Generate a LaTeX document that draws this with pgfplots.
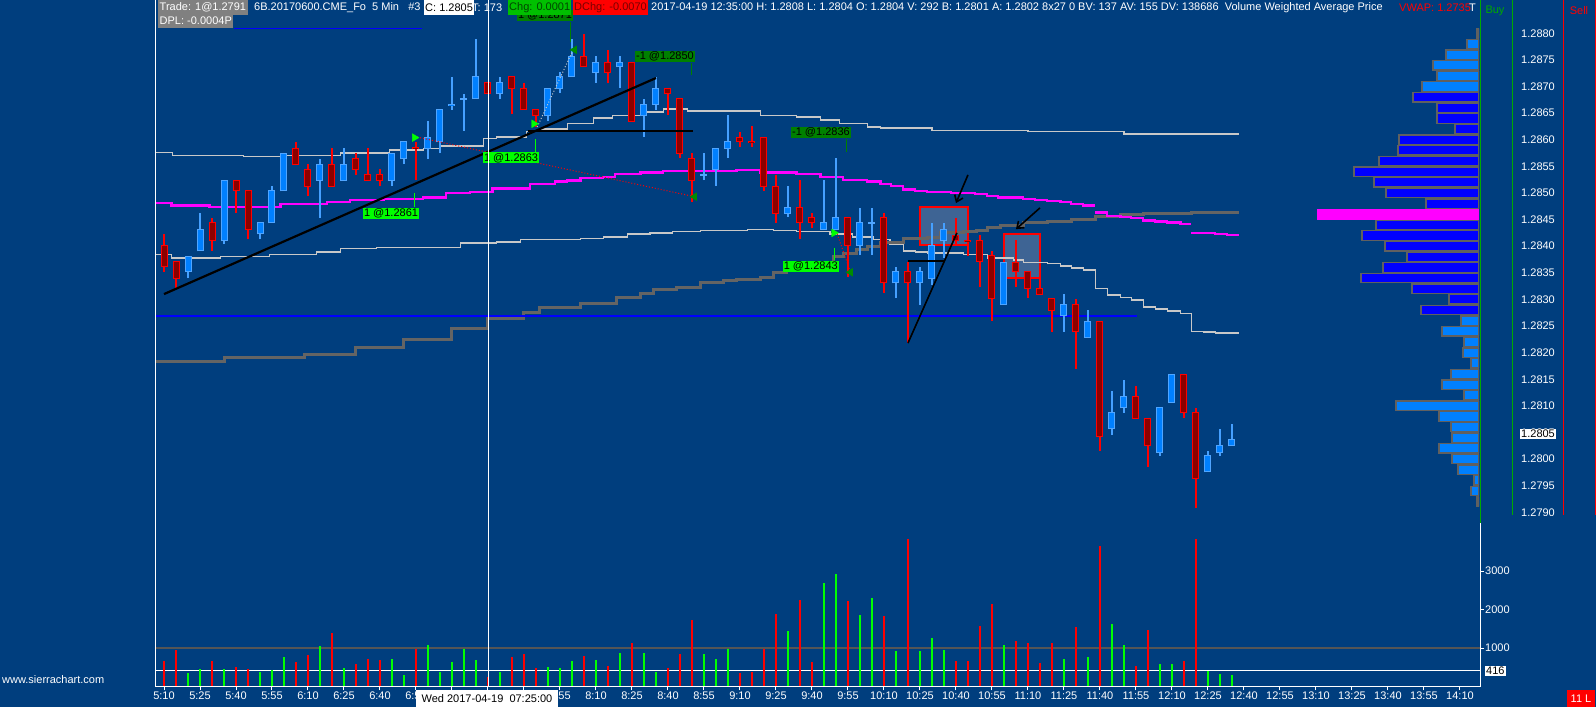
\documentclass[border=0pt]{standalone}
\usepackage{fontspec}
\setmainfont{Liberation Sans}
\usepackage{pgfplots}
\usepackage{pgfplotstable}
\pgfplotsset{compat=1.18}
\usetikzlibrary{arrows.meta}

\definecolor{bg}{RGB}{0,62,126}
\definecolor{upfill}{RGB}{0,128,255}
\definecolor{upedge}{RGB}{80,165,255}
\definecolor{upwick}{RGB}{70,160,255}
\definecolor{dnfill}{RGB}{140,0,0}
\definecolor{dnedge}{RGB}{255,0,0}
\definecolor{band}{RGB}{200,200,200}
\definecolor{vw}{RGB}{100,100,100}
\definecolor{mag}{RGB}{255,0,255}
\definecolor{volg}{RGB}{0,255,0}
\definecolor{volr}{RGB}{255,0,0}
\definecolor{profL}{RGB}{0,128,255}
\definecolor{profD}{RGB}{0,0,255}
\definecolor{profE}{RGB}{96,96,96}
\definecolor{lblg}{RGB}{0,255,0}
\definecolor{lbldg}{RGB}{0,128,0}
\definecolor{exitg}{RGB}{0,140,0}
\definecolor{hdrgray}{RGB}{128,128,128}
\definecolor{rectfill}{RGB}{62,100,148}
\definecolor{chgg}{RGB}{0,192,0}
\definecolor{buyg}{RGB}{0,170,0}
\definecolor{mline}{RGB}{85,85,85}
\definecolor{bluel}{RGB}{0,0,255}

\newcommand{\fs}{\fontsize{11pt}{13pt}\selectfont}

\pgfplotsset{
  candle/.style n args={2}{forget plot, draw=none, mark=none,
    error bars/.cd, y dir=plus, y explicit, error mark=none,
    error bar style={line width=#1, draw=#2}},
}

% candles: index (5-min bars from 5:10), open, high, low, close
\pgfplotstableread{
i o h l c
2 1.28352 1.28380 1.28340 1.28380
3 1.28391 1.28462 1.28391 1.28432
5 1.28410 1.28524 1.28404 1.28524
8 1.28423 1.28444 1.28413 1.28444
9 1.28444 1.28513 1.28444 1.28504
10 1.28504 1.28575 1.28504 1.28575
13 1.28524 1.28564 1.28453 1.28554
15 1.28524 1.28584 1.28524 1.28554
19 1.28524 1.28575 1.28513 1.28575
20 1.28564 1.28596 1.28554 1.28596
22 1.28584 1.28635 1.28564 1.28605
23 1.28596 1.28656 1.28575 1.28656
24 1.28665 1.28718 1.28656 1.28667
25 1.28676 1.28686 1.28617 1.28677
26 1.28677 1.28789 1.28677 1.28718
28 1.28686 1.28718 1.28677 1.28707
32 1.28645 1.28697 1.28635 1.28697
33 1.28697 1.28727 1.28688 1.28718
34 1.28718 1.28789 1.28718 1.28757
36 1.28727 1.28757 1.28707 1.28746
38 1.28737 1.28757 1.28697 1.28746
40 1.28645 1.28677 1.28605 1.28667
41 1.28667 1.28718 1.28656 1.28697
45 1.28533 1.28575 1.28524 1.28534
46 1.28545 1.28584 1.28513 1.28584
47 1.28584 1.28646 1.28566 1.28596
52 1.28462 1.28513 1.28455 1.28472
55 1.28432 1.28524 1.28432 1.28444
56 1.28432 1.28566 1.28432 1.28453
58 1.28402 1.28472 1.28383 1.28444
59 1.28443 1.28472 1.28383 1.28444
61 1.28331 1.28361 1.28303 1.28352
63 1.28331 1.28361 1.28290 1.28352
64 1.28340 1.28444 1.28327 1.28402
65 1.28410 1.28444 1.28378 1.28432
70 1.28290 1.28370 1.28290 1.28370
75 1.28269 1.28310 1.28239 1.28290
77 1.28229 1.28280 1.28229 1.28259
79 1.28057 1.28128 1.28045 1.28087
80 1.28096 1.28149 1.28087 1.28117
83 1.28013 1.28096 1.28006 1.28096
84 1.28107 1.28158 1.28107 1.28158
87 1.27976 1.28015 1.27976 1.28006
88 1.28013 1.28057 1.28006 1.28025
89 1.28025 1.28066 1.28025 1.28036
}\upc

\pgfplotstableread{
i o h l c
0 1.28402 1.28423 1.28352 1.28361
1 1.28372 1.28372 1.28321 1.28340
4 1.28444 1.28453 1.28391 1.28410
6 1.28524 1.28524 1.28462 1.28504
7 1.28504 1.28504 1.28413 1.28432
11 1.28584 1.28596 1.28553 1.28553
12 1.28545 1.28554 1.28494 1.28513
14 1.28554 1.28584 1.28513 1.28513
16 1.28564 1.28575 1.28534 1.28545
17 1.28534 1.28584 1.28524 1.28524
18 1.28534 1.28545 1.28513 1.28524
21 1.28586 1.28596 1.28524 1.28583
27 1.28707 1.28707 1.28686 1.28686
29 1.28718 1.28718 1.28648 1.28697
30 1.28697 1.28707 1.28656 1.28656
31 1.28656 1.28656 1.28624 1.28646
35 1.28757 1.28799 1.28737 1.28737
37 1.28746 1.28769 1.28707 1.28727
39 1.28746 1.28746 1.28635 1.28635
42 1.28697 1.28697 1.28646 1.28686
43 1.28677 1.28677 1.28566 1.28575
44 1.28564 1.28575 1.28483 1.28524
48 1.28605 1.28615 1.28586 1.28596
49 1.28597 1.28626 1.28586 1.28595
50 1.28605 1.28605 1.28504 1.28513
51 1.28513 1.28534 1.28444 1.28462
53 1.28472 1.28524 1.28413 1.28444
54 1.28453 1.28462 1.28434 1.28444
57 1.28453 1.28453 1.28342 1.28402
60 1.28453 1.28462 1.28312 1.28331
62 1.28352 1.28370 1.28218 1.28331
66 1.28421 1.28453 1.28402 1.28410
67 1.28411 1.28421 1.28382 1.28409
68 1.28410 1.28421 1.28323 1.28372
69 1.28382 1.28391 1.28259 1.28301
71 1.28370 1.28412 1.28323 1.28352
72 1.28352 1.28352 1.28303 1.28321
73 1.28321 1.28340 1.28310 1.28310
74 1.28301 1.28301 1.28239 1.28280
76 1.28290 1.28301 1.28169 1.28239
78 1.28259 1.28259 1.28015 1.28043
81 1.28117 1.28137 1.28077 1.28077
82 1.28077 1.28077 1.27985 1.28025
85 1.28158 1.28158 1.28077 1.28087
86 1.28087 1.28096 1.27908 1.27964
}\dnc

\pgfplotstableread{
i v
2 351
3 455
5 455
8 385
9 429
10 775
13 1052
15 481
19 714
20 299
22 1078
23 385
24 637
25 974
26 688
28 385
32 507
33 481
34 662
36 688
38 870
40 870
41 385
45 844
46 714
47 974
52 1442
55 2689
56 2923
58 1858
59 2299
61 922
63 922
64 1260
65 948
70 1078
75 714
77 766
79 1624
80 1078
83 585
84 585
87 403
88 325
89 292
}\volup

\pgfplotstableread{
i v
0 662
1 948
4 662
6 507
7 455
11 637
12 818
14 1390
16 585
17 714
18 688
21 974
27 247
29 766
30 844
31 481
35 792
37 533
39 1130
42 481
43 844
44 1728
48 351
49 385
50 974
51 1884
53 2247
54 637
57 2221
60 1832
62 3832
66 662
67 662
68 1572
69 2143
71 1182
72 1130
73 610
74 1130
76 1546
78 3650
81 533
82 1468
85 662
86 3832
}\voldn

\begin{document}
\begin{tikzpicture}
\fill[bg] (0,0) rectangle (1596pt,707pt);
\path[use as bounding box] (0,0) rectangle (1596pt,707pt);

% ---------------- price panel ----------------
\begin{axis}[
  at={(155pt,187pt)}, anchor=south west,
  scale only axis, width=1325pt, height=520pt,
  xmin=-0.75, xmax=109.67, ymin=1.278855, ymax=1.288626,
  axis line style={draw=none},
  xtick=\empty,
  ytick={1.2790,1.2795,1.2800,1.2805,1.2810,1.2815,1.2820,1.2825,1.2830,1.2835,1.2840,1.2845,1.2850,1.2855,1.2860,1.2865,1.2870,1.2875,1.2880},
  yticklabels={1.2790,1.2795,1.2800,1.2805,1.2810,1.2815,1.2820,1.2825,1.2830,1.2835,1.2840,1.2845,1.2850,1.2855,1.2860,1.2865,1.2870,1.2875,1.2880},
  ytick pos=right, yticklabel pos=right, ytick style={draw=none},
  yticklabel style={font=\fs, text=white, anchor=west, inner sep=0pt, xshift=41pt},
]
% drawn rectangles
\filldraw[fill=rectfill, draw=dnedge, line width=1.5pt] (axis cs:63,1.28474) rectangle (axis cs:67,1.28402);
\filldraw[fill=rectfill, draw=dnedge, line width=1.5pt] (axis cs:70,1.28423) rectangle (axis cs:73,1.28340);

% upper band
\addplot[const plot, band, line width=1.3pt] coordinates {(-0.75,1.28576) (0.7,1.28571) (6.6,1.28568) (9.7,1.28571) (14.7,1.28575) (18.8,1.28581) (21.6,1.28584) (23,1.28588) (26.6,1.28603) (27.7,1.28605) (30.2,1.28615) (31.5,1.28620) (33.6,1.28630) (35.8,1.28641) (37.4,1.28646) (39.7,1.28652) (41.6,1.28658) (43.6,1.28654) (49.7,1.28646) (52.7,1.28643) (54.7,1.28637) (56.3,1.28630) (58.6,1.28624) (59.7,1.28622) (64,1.28618) (72,1.28615) (80,1.28611) (89.6,1.28611)};
% lower band
\addplot[const plot, band, line width=1.3pt] coordinates {(-0.75,1.28385) (0.6,1.28378) (4.7,1.28380) (8.8,1.28385) (12.7,1.28389) (14.7,1.28395) (17.7,1.28398) (24.7,1.28406) (27.7,1.28408) (29.7,1.28413) (34.7,1.28415) (36.6,1.28417) (38.6,1.28423) (40.5,1.28425) (42.4,1.28427) (44.7,1.28429) (46.6,1.28430) (48.6,1.28432) (50.8,1.28429) (52.7,1.28427) (55.5,1.28423) (57.4,1.28417) (59.1,1.28413) (60.5,1.28404) (61.6,1.28391) (62.6,1.28389) (63.6,1.28387) (66.6,1.28385) (68.6,1.28378) (70.8,1.28374) (71.6,1.28370) (73.6,1.28367) (74.7,1.28363) (75.6,1.28359) (76.6,1.28355) (77.6,1.28320) (78.6,1.28308) (79.7,1.28303) (80.6,1.28299) (81.6,1.28286) (82.6,1.28282) (83.6,1.28278) (84.7,1.28274) (85.6,1.28240) (86.6,1.28239) (87.6,1.28237) (89.6,1.28237)};
% VWAP (dark gray)
\addplot[const plot, vw, line width=3pt] coordinates {(-0.75,1.28184) (5,1.28190) (11.7,1.28197) (16,1.28209) (20,1.28224) (24,1.28246) (27,1.28265) (30,1.28276) (31.3,1.28284) (34.7,1.28293) (37.7,1.28303) (39.7,1.28312) (40.8,1.28318) (42.7,1.28323) (44.7,1.28331) (46.6,1.28335) (47.7,1.28338) (49.7,1.28342) (50.8,1.28350) (51.9,1.28355) (55.8,1.28380) (56.6,1.28387) (57.7,1.28393) (58.6,1.28399) (59.7,1.28406) (61.6,1.28415) (63.6,1.28417) (64.7,1.28425) (66.6,1.28427) (67.7,1.28430) (68.6,1.28436) (69.7,1.28438) (71.6,1.28444) (73.6,1.28446) (74.7,1.28447) (75.6,1.28451) (77.6,1.28455) (79.7,1.28459) (81.6,1.28461) (84.7,1.28462) (85.6,1.28464) (89.6,1.28464)};
% magenta
\addplot[const plot, mag, line width=2.6pt] coordinates {(-0.75,1.28481) (0.6,1.28477) (3.8,1.28474) (9.7,1.28479) (13.6,1.28483) (15.5,1.28487) (18.3,1.28489) (21.6,1.28491) (23.5,1.28500) (25.5,1.28502) (27.4,1.28508) (30.5,1.28517) (32.6,1.28521) (33.6,1.28523) (34.7,1.28528) (36.6,1.28530) (37.6,1.28536) (39.7,1.28538) (41.6,1.28541) (47.7,1.28543) (49.7,1.28539) (52.7,1.28536) (54.7,1.28530) (56.6,1.28524) (58.6,1.28521) (59.7,1.28517) (60.6,1.28513) (61.6,1.28506) (62.6,1.28504) (63.6,1.28502) (65.6,1.28500) (67.6,1.28498) (68.6,1.28494) (69.5,1.28492) (70.6,1.28491) (71.6,1.28489) (72.6,1.28487) (73.6,1.28485) (74.7,1.28483) (75.6,1.28479) (76.6,1.28477) (77.6,1.28477)};
\addplot[const plot, mag, line width=2.6pt] coordinates {(77.6,1.28463) (78.6,1.28457) (79.7,1.28455) (80.6,1.28453) (81.6,1.28448) (82.6,1.28446) (83.6,1.28444) (84.7,1.28442) (85.6,1.28442)};
\addplot[const plot, mag, line width=2.6pt] coordinates {(85.6,1.28425) (87.6,1.28423) (88.6,1.28421) (89.6,1.28421)};

% blue horizontal lines
\draw[bluel, line width=2pt] (axis cs:-0.75,1.28269) -- (axis cs:81.08,1.28269);
\draw[bluel, line width=1.5pt] (axis cs:5.83,1.28809) -- (axis cs:21.5,1.28809);

% wicks
\addplot[candle={1.3pt}{upwick}] table[x=i, y=l, y error plus expr={\thisrow{h}-\thisrow{l}}] {\upc};
\addplot[candle={1.3pt}{dnedge}] table[x=i, y=l, y error plus expr={\thisrow{h}-\thisrow{l}}] {\dnc};
% bodies: outer edge
\addplot[candle={7pt}{upedge}] table[x=i, y expr={min(\thisrow{o},\thisrow{c})-0.0000094}, y error plus expr={abs(\thisrow{c}-\thisrow{o})+0.0000188}] {\upc};
\addplot[candle={7pt}{dnedge}] table[x=i, y expr={min(\thisrow{o},\thisrow{c})-0.0000094}, y error plus expr={abs(\thisrow{c}-\thisrow{o})+0.0000188}] {\dnc};
% bodies: fill
\addplot[candle={5pt}{upfill}] table[x=i, y expr={min(\thisrow{o},\thisrow{c})+0.0000094}, y error plus expr={max(abs(\thisrow{c}-\thisrow{o})-0.0000188,0)}] {\upc};
\addplot[candle={5pt}{dnfill}] table[x=i, y expr={min(\thisrow{o},\thisrow{c})+0.0000094}, y error plus expr={max(abs(\thisrow{c}-\thisrow{o})-0.0000188,0)}] {\dnc};

% trend lines
\draw[black, line width=2.2pt] (axis cs:0,1.28310) -- (axis cs:41,1.28716);
\draw[black, line width=2.2pt] (axis cs:30.33,1.28616) -- (axis cs:44.08,1.28616);
\draw[black, line width=1.6pt] (axis cs:62,1.28218) -- (axis cs:66.08,1.28425);
\draw[black, line width=2pt] (axis cs:62,1.28372) -- (axis cs:65.08,1.28372);
\draw[black, line width=1.6pt, -{Straight Barb[length=6pt,width=9pt]}] (axis cs:67,1.28534) -- (axis cs:66,1.28481);
\draw[black, line width=1.6pt, -{Straight Barb[length=6pt,width=9pt]}] (axis cs:73,1.28472) -- (axis cs:71,1.28432);

% trade connection lines
\draw[dnedge, dotted, line width=1pt] (axis cs:21.1,1.28605) -- (axis cs:44,1.28494);
\draw[band, dotted, line width=1pt] (axis cs:31.1,1.28624) -- (axis cs:34.1,1.28769);
\draw[dnedge, dotted, line width=1pt] (axis cs:56.1,1.28423) -- (axis cs:57.2,1.28352);

% label stems
\draw[lblg, line width=1pt] (axis cs:20.9,1.28500) -- (axis cs:20.9,1.28474);
\draw[lblg, line width=1pt] (axis cs:31,1.28601) -- (axis cs:31,1.28577);
\draw[lbldg, line width=1pt] (axis cs:44,1.28744) -- (axis cs:44,1.28722);
\draw[lbldg, line width=1pt] (axis cs:56.9,1.28601) -- (axis cs:56.9,1.28577);
\draw[lblg, line width=1pt] (axis cs:55.9,1.28397) -- (axis cs:55.9,1.28374);
\draw[lbldg, line width=1pt] (axis cs:33.9,1.28821) -- (axis cs:33.9,1.28784);

% trade labels
\node[fill=lbldg, text=black, font=\fs, inner sep=0.8pt] at (axis cs:31.75,1.28834) {1 @1.2871};
\node[fill=lblg, text=black, font=\fs, inner sep=0.8pt] at (axis cs:18.92,1.28462) {1 @1.2861};
\node[fill=lblg, text=black, font=\fs, inner sep=0.8pt] at (axis cs:28.92,1.28566) {1 @1.2863};
\node[fill=lbldg, text=black, font=\fs, inner sep=0.8pt] at (axis cs:41.75,1.28756) {-1 @1.2850};
\node[fill=lbldg, text=black, font=\fs, inner sep=0.8pt] at (axis cs:54.75,1.28614) {-1 @1.2836};
\node[fill=lblg, text=black, font=\fs, inner sep=0.8pt] at (axis cs:53.9,1.28362) {1 @1.2843};

% entry / exit markers
\addplot[only marks, mark=triangle*, mark size=4.5pt, mark options={rotate=-90, fill=lblg, draw=lblg}] coordinates {(20.88,1.28604) (30.83,1.28630) (55.83,1.28425)};
\addplot[only marks, mark=triangle*, mark size=4.5pt, mark options={rotate=90, fill=exitg, draw=exitg}] coordinates {(34.21,1.28769) (44.21,1.28493) (57.21,1.28351)};
\end{axis}

% ---------------- volume profile ----------------
\begin{axis}[
  at={(1280pt,187pt)}, anchor=south west,
  scale only axis, width=199pt, height=520pt,
  xmin=0, xmax=199, x dir=reverse,
  ymin=1.278855, ymax=1.288626, hide axis,
  xbar, bar width=9.4pt, bar shift=0pt,
]
\addplot[xbar, fill=profL, draw=profE, line width=1.3pt] coordinates {
(2,1.2880) (12,1.2878) (33,1.2876) (46,1.2874) (42,1.2872) (57,1.2870)
(18,1.2826) (37,1.2824) (15,1.2822) (16,1.2820) (8,1.2818) (28,1.2816) (37,1.2814) (15,1.2812) (83,1.2810) (40,1.2808) (28,1.2806) (27,1.2804) (40,1.2802) (27,1.2800) (21,1.2798) (5,1.2796) (8,1.2794) (2,1.2792)};
\addplot[xbar, fill=profD, draw=profE, line width=1.3pt] coordinates {
(66,1.2868) (42,1.2866) (42,1.2864) (24,1.2862) (80,1.2860) (81,1.2858) (100,1.2856) (125,1.2854) (105,1.2852) (93,1.2850) (53,1.2848)
(103,1.2844) (117,1.2842) (94,1.2840) (72,1.2838) (96,1.2836) (118,1.2834) (67,1.2832) (30,1.2830) (58,1.2828)};
\addplot[xbar, fill=mag, draw=none, bar width=10.6pt] coordinates {(162,1.2846)};
\end{axis}

% ---------------- volume panel ----------------
\begin{axis}[
  at={(155pt,20.5pt)}, anchor=south west,
  scale only axis, width=1325pt, height=163.5pt,
  xmin=-0.75, xmax=109.67, ymin=0, ymax=4247,
  axis line style={draw=none},
  xtick={0,3,...,108},
  xticklabels={5:10,5:25,5:40,5:55,6:10,6:25,6:40,6:55,{},{},{},7:55,8:10,8:25,8:40,8:55,9:10,9:25,9:40,9:55,10:10,10:25,10:40,10:55,11:10,11:25,11:40,11:55,12:10,12:25,12:40,12:55,13:10,13:25,13:40,13:55,14:10},
  ytick={1000,2000,3000}, yticklabels={1000,2000,3000},
  xtick pos=left, ytick pos=right, yticklabel pos=right,
  tick align=outside, major tick length=4pt,
  tick style={white, line width=1pt},
  xticklabel style={font=\fs, text=white, inner sep=1pt},
  yticklabel style={font=\fs, text=white, inner sep=1pt},
  /pgf/number format/assume math mode=true,
]
\draw[mline, line width=2pt] (axis cs:-0.75,1000) -- (axis cs:109.67,1000);
\draw[white, line width=1pt] (axis cs:-0.75,416) -- (axis cs:109.67,416);
\addplot[ycomb, volg, line width=2.4pt] table[x=i, y=v] {\volup};
\addplot[ycomb, volr, line width=2.4pt] table[x=i, y=v] {\voldn};
\end{axis}

% ---------------- frame, header, overlays ----------------
\begin{scope}[x=1pt, y=-1pt, shift={(0pt,707pt)}]
\fill[bg] (1513,516) rectangle (1562,530);
\draw[white, line width=1pt] (155.5,0) -- (155.5,687);
\draw[white, line width=1pt] (155,687) -- (1480,687);
\draw[white, line width=1pt] (1480,523) -- (1480,687);
\draw[buyg, line width=1pt] (1480,0) -- (1480,523);
\draw[buyg, line width=1pt] (1512,0) -- (1512,515);
\draw[volr, line width=1pt] (1563,0) -- (1563,515);
\draw[volr, line width=1pt] (1595,0) -- (1595,515);

% cursor
\draw[white, line width=1pt] (488,0) -- (488,687);

% header row 1
\node[fill=hdrgray, text=white, font=\fs, inner sep=1.5pt, anchor=west, minimum height=15pt] at (158,7.5) {Trade: 1@1.2791};
\node[text=white, font=\fs, inner sep=0pt, anchor=west] at (254,7.5) {6B.20170600.CME\_Fo\ \ 5 Min\ \ \ \#3};
\node[fill=white, text=black, font=\fs, inner sep=1pt, anchor=west, minimum height=15pt] at (424,7.5) {C: 1.2805};
\node[text=white, font=\fs, inner sep=0pt, anchor=west] at (472,7.5) {T:\ 173};
\node[fill=chgg, text={rgb,255:red,0;green,70;blue,0}, font=\fs, inner sep=1pt, anchor=west, minimum height=15pt] at (508,7.5) {Chg: 0.0001};
\node[fill=volr, text={rgb,255:red,120;green,0;blue,0}, font=\fs, inner sep=1pt, anchor=west, minimum height=15pt] at (573,7.5) {DChg: -0.0070};
\node[text=white, font=\fs, inner sep=0pt, anchor=west] at (651,7.5) {2017-04-19 12:35:00 H: 1.2808 L: 1.2804 O: 1.2804 V: 292 B: 1.2801 A: 1.2802 8x27 0 BV: 137 AV: 155 DV: 138686\ \ Volume Weighted Average Price};
\node[text=volr, font=\fs, inner sep=0pt, anchor=west] at (1399,7.5) {VWAP: 1.2735};
\node[text=white, font=\fs, inner sep=0pt, anchor=west] at (1469,7.5) {T};
% header row 2
\node[fill=hdrgray, text=white, font=\fs, inner sep=1.5pt, anchor=west, minimum height=14pt] at (158,21) {DPL: -0.0004P};

\node[text=buyg, font=\fs, inner sep=0pt] at (1495,11) {Buy};
\node[text=volr, font=\fs, inner sep=0pt] at (1579,11) {Sell};

% current price / volume boxes
\node[fill=white, text=black, font=\fs, inner sep=1pt, anchor=west] at (1520,434) {1.2805};
\node[fill=white, text=black, font=\fs, inner sep=1pt, anchor=west] at (1485,671) {416};

% cursor time box
\node[fill=white, text=black, font=\fs, inner sep=0pt, minimum width=142pt, minimum height=17pt] at (487,698.5) {Wed 2017-04-19\ \ 07:25:00};
\node[fill=volr, text=white, font=\fs, inner sep=0pt, minimum width=28pt, minimum height=17pt] at (1581,698.5) {11 L};
\node[text=white, font=\fs, inner sep=0pt, anchor=west] at (2,680) {www.sierrachart.com};
\end{scope}
\end{tikzpicture}
\end{document}
